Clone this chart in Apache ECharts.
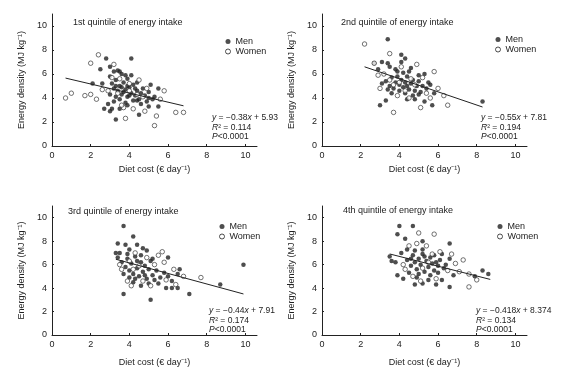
<!DOCTYPE html>
<html>
<head>
<meta charset="utf-8">
<script src="https://cdn.jsdelivr.net/npm/echarts@6/dist/echarts.min.js"></script>
<style>
  html, body { margin: 0; padding: 0; background: #fff; }
  #chart { width: 562px; height: 368px; }
</style>
</head>
<body>
<div id="chart"></div>
<script>
// tick labels
const xTicks = [0, 2, 4, 6, 8, 10];
const yTicks = [0, 2, 4, 6, 8, 10];

const panelTitles = [
  '1st quintile of energy intake',
  '2nd quintile of energy intake',
  '3rd quintile of energy intake',
  '4th quintile of energy intake'
];

const eqSlope = ['−0.38', '−0.55', '−0.44', '−0.418'];
const eqIntercept = ['5.93', '7.81', '7.91', '8.374'];
const eqR2 = ['0.114', '0.194', '0.174', '0.134'];

// [diet cost, energy density]
const men1 = [[2.8,7.3],[4.1,7.3],[2.5,6.4],[3.0,6.6],[3.2,6.2],[3.5,6.2],[3.8,5.9],[3.9,5.6],[4.4,5.3],[2.1,5.2],[2.6,5.2],[5.5,4.8],[5.3,4.1],[5.0,4.0],[4.7,4.8],[3.3,2.2],[4.5,2.6],[2.7,3.1],[3.1,3.1],[3.5,3.1],[3.9,3.4],[5.0,3.3],[5.5,3.3],[4.4,3.8],
  [3.0,5.8],[3.1,5.2],[3.2,4.8],[3.3,5.5],[3.4,4.6],[3.5,5.0],[3.6,4.3],[3.7,5.3],[3.8,4.7],[3.9,4.1],[4.0,4.9],[4.1,4.4],[4.2,5.1],[4.3,4.2],[4.4,4.6],[4.5,3.9],[4.6,4.4],[4.8,4.2],[5.0,4.5],[5.2,3.9],[3.2,3.7],[3.5,3.9],[3.8,3.6],[4.2,3.8],[4.6,3.5],[3.0,4.3],[2.9,3.5],[3.3,4.1],[3.6,6.0],[4.1,5.9],[3.4,6.3],[3.7,4.5],[4.0,4.2],[3.9,5.0],[4.3,4.8],[3.6,4.9],[3.3,5.0],[5.1,5.1],[4.9,3.7],[3.0,2.9]];
const women1 = [[2.4,7.6],[2.0,6.9],[0.7,4.0],[1.0,4.4],[1.7,4.2],[2.0,4.3],[2.3,3.9],[5.8,4.6],[6.4,2.8],[6.8,2.8],[5.3,1.7],[3.8,2.3],[5.4,2.5],[4.0,5.2],[3.4,4.4],[4.5,5.5],[3.1,5.7],[4.9,4.8],[2.9,4.6],[3.7,3.2],[4.2,3.1],[4.7,4.1],[3.5,5.6],[4.0,4.6],[2.6,4.7],[5.6,3.9],[3.6,3.4],[4.4,4.3],[4.8,2.9],[3.2,6.8]];

const men2 = [[3.4,8.9],[4.1,7.6],[3.1,7.0],[3.4,6.9],[4.1,7.0],[4.6,6.5],[3.5,6.6],[2.9,6.4],[5.3,6.0],[5.0,5.9],[3.9,6.2],[3.1,5.2],[5.6,5.1],[5.8,4.4],[5.7,3.4],[5.3,3.7],[3.0,3.4],[3.3,3.8],[4.4,3.9],[4.8,3.9],[4.3,4.4],[8.3,3.7],[2.7,6.9],[4.3,7.3],
  [3.3,5.4],[3.5,5.0],[3.6,5.7],[3.7,4.8],[3.8,5.3],[3.9,5.8],[4.0,4.6],[4.0,5.1],[4.1,5.5],[4.2,4.9],[4.3,5.3],[4.4,5.8],[4.5,4.7],[4.6,5.2],[4.7,5.5],[4.8,4.6],[4.9,5.0],[5.0,5.4],[5.1,4.5],[5.2,5.0],[5.4,4.8],[3.6,4.4],[4.2,6.1],[3.8,6.4],[4.5,6.2],[4.7,4.2],[5.0,4.3],[5.5,5.3],[3.4,4.7],[4.4,5.0]];
const women2 = [[2.2,8.5],[3.5,7.7],[2.7,6.9],[5.8,6.2],[6.0,4.8],[6.3,4.2],[6.5,3.4],[5.1,3.2],[3.7,2.8],[2.9,5.9],[3.2,6.0],[4.9,6.8],[4.0,5.3],[4.3,4.6],[3.7,5.1],[4.6,5.6],[5.2,5.7],[3.9,4.2],[5.6,4.0],[4.1,6.6],[3.5,5.5],[4.8,5.1],[5.4,4.4],[3.0,4.8],[4.5,4.0]];

const men3 = [[3.7,9.3],[4.2,8.4],[3.4,7.8],[3.8,7.7],[4.4,7.7],[3.5,7.0],[3.3,7.0],[3.4,6.6],[4.0,7.3],[4.7,7.4],[4.9,7.2],[6.0,6.6],[5.2,6.5],[6.6,5.6],[6.5,5.2],[6.2,4.6],[8.7,4.3],[9.9,6.0],[3.7,3.5],[5.1,3.0],[7.1,3.5],[5.9,4.0],[6.2,4.0],[6.5,4.0],[4.6,4.2],[4.2,4.5],
  [3.6,6.2],[3.8,5.8],[3.9,6.5],[4.0,5.5],[4.1,6.1],[4.2,5.2],[4.3,6.7],[4.4,5.7],[4.5,5.0],[4.6,6.2],[4.7,5.4],[4.8,5.9],[4.9,4.8],[5.0,5.6],[5.1,6.3],[5.2,5.1],[5.3,4.7],[5.4,5.5],[5.6,4.9],[5.8,5.3],[4.0,4.9],[4.3,4.8],[3.9,6.9],[4.6,6.8],[5.0,4.4],[5.5,4.4],[6.0,5.0],[4.4,6.3],[3.7,5.2],[4.8,5.1]];
const women3 = [[5.7,7.1],[7.7,4.9],[5.8,6.2],[5.5,6.8],[4.1,4.2],[3.6,5.6],[4.3,7.0],[4.7,4.6],[5.3,6.0],[6.3,5.6],[6.8,5.0],[4.5,5.9],[4.0,6.3],[3.5,6.0],[5.1,4.2],[4.9,6.6],[5.9,4.7],[4.2,5.6],[6.4,4.3],[3.9,4.6]];

const men4 = [[4.0,9.3],[4.7,9.3],[3.9,8.6],[4.3,8.2],[5.2,8.0],[6.6,7.8],[3.5,6.7],[3.6,6.3],[3.8,6.2],[4.1,7.0],[4.4,7.3],[4.8,7.2],[6.2,6.9],[6.6,6.5],[8.3,5.5],[8.6,5.2],[7.9,5.0],[3.9,5.1],[4.2,4.8],[4.8,4.3],[5.2,4.4],[5.9,4.3],[6.6,4.1],[5.5,4.7],[6.2,4.7],[6.8,5.1],
  [4.4,6.4],[4.6,5.9],[4.7,6.8],[4.8,6.2],[4.9,5.6],[5.0,6.5],[5.1,6.0],[5.2,6.9],[5.3,5.4],[5.4,6.3],[5.5,5.8],[5.6,6.6],[5.7,6.1],[5.8,5.5],[5.9,6.2],[6.0,5.9],[6.1,6.4],[6.3,5.7],[5.2,7.3],[5.0,5.2],[4.5,5.3],[5.6,5.1],[6.4,6.0],[5.3,6.7],[4.6,6.5],[5.8,6.8],[6.0,5.3],[4.9,4.9]];
const women4 = [[5.0,8.7],[5.8,8.6],[7.3,6.4],[8.0,4.7],[7.6,4.1],[5.7,6.9],[4.2,6.0],[4.5,7.6],[5.4,7.6],[6.1,7.1],[6.5,5.5],[7.1,5.4],[4.7,5.0],[5.2,5.7],[5.5,6.2],[6.9,6.1],[4.3,5.6],[5.9,4.8],[6.7,6.9],[7.6,5.2],[4.9,7.8],[5.1,4.6]];

// regression line end points as drawn
const fit1 = [[0.7,5.66],[6.8,3.35]];
const fit2 = [[2.2,6.6],[8.3,3.25]];
const fit3 = [[3.3,6.46],[9.9,3.5]];
const fit4 = [[3.5,6.91],[8.7,4.74]];

const menAll = [men1, men2, men3, men4];
const womenAll = [women1, women2, women3, women4];
const fitAll = [fit1, fit2, fit3, fit4];

const FONT = 'Liberation Sans';
const INK = '#222';

const grids = [
  { left: 52, top: 14, width: 205, height: 132 },
  { left: 322, top: 14, width: 205, height: 132 },
  { left: 52, top: 206, width: 205, height: 131 },
  { left: 322, top: 206, width: 205, height: 131 }
];
const titlePos = [[73, 18], [341, 18], [68, 207], [343, 206]];
const legendPos = [[220, 32], [490, 30], [214, 217], [492, 217]];
const eqPos = [[212, 113], [481, 113], [209, 306], [476, 306]];
const xNameGap = [19, 19, 23, 23];

const chart = echarts.init(document.getElementById('chart'));

const xAxis = grids.map((g, i) => ({
  type: 'value',
  gridIndex: i,
  min: 0,
  max: 10.6,
  name: 'Diet cost (€ day⁻¹)',
  nameLocation: 'middle',
  nameGap: xNameGap[i],
  nameTextStyle: { fontFamily: FONT, fontSize: 9, color: INK },
  axisLine: { lineStyle: { color: INK, width: 1 } },
  axisTick: { customValues: xTicks, inside: true, length: 2, lineStyle: { color: INK } },
  axisLabel: { customValues: xTicks, fontFamily: FONT, fontSize: 9, color: INK, margin: 5 },
  splitLine: { show: false }
}));

const yAxis = grids.map((g, i) => ({
  type: 'value',
  gridIndex: i,
  min: 0,
  max: 11,
  name: 'Energy density (MJ kg⁻¹)',
  nameLocation: 'middle',
  nameGap: 26,
  nameTextStyle: { fontFamily: FONT, fontSize: 9, color: INK },
  axisLine: { show: true, lineStyle: { color: INK, width: 1 } },
  axisTick: { show: true, customValues: yTicks, inside: true, length: 2, lineStyle: { color: INK } },
  axisLabel: { customValues: yTicks, fontFamily: FONT, fontSize: 9, color: INK, margin: 5 },
  splitLine: { show: false }
}));

const series = [];
for (let i = 0; i < 4; i++) {
  series.push({
    name: 'Men',
    type: 'scatter',
    xAxisIndex: i,
    yAxisIndex: i,
    symbol: 'circle',
    symbolSize: 4.5,
    itemStyle: { color: INK },
    data: menAll[i]
  });
  series.push({
    name: 'Women',
    type: 'scatter',
    xAxisIndex: i,
    yAxisIndex: i,
    symbol: 'circle',
    symbolSize: 4.5,
    itemStyle: { color: '#fff', borderColor: INK, borderWidth: 0.8 },
    data: womenAll[i]
  });
  series.push({
    type: 'line',
    xAxisIndex: i,
    yAxisIndex: i,
    symbol: 'none',
    silent: true,
    lineStyle: { color: INK, width: 1 },
    data: fitAll[i]
  });
}

const legend = legendPos.map((p) => ({
  left: p[0],
  top: p[1],
  orient: 'vertical',
  itemWidth: 5,
  itemHeight: 5,
  itemGap: 1,
  icon: 'circle',
  textStyle: { fontFamily: FONT, fontSize: 9, color: INK },
  data: [
    { name: 'Men' },
    { name: 'Women', itemStyle: { color: '#fff', borderColor: INK, borderWidth: 1 } }
  ]
}));

const title = panelTitles.map((t, i) => ({
  text: t,
  left: titlePos[i][0],
  top: titlePos[i][1],
  padding: 0,
  textStyle: { fontFamily: FONT, fontSize: 9, fontWeight: 'normal', color: INK }
}));

const graphic = eqPos.map((p, i) => ({
  type: 'text',
  left: p[0],
  top: p[1],
  style: {
    text: '{i|y} = ' + eqSlope[i] + '{i|x} + ' + eqIntercept[i] + '\n{i|R}² = ' + eqR2[i] + '\n{i|P}<0.0001',
    fontFamily: FONT,
    fontSize: 8.5,
    lineHeight: 9.5,
    fill: INK,
    rich: { i: { fontStyle: 'italic', fontFamily: FONT, fontSize: 8.5, lineHeight: 9.5 } }
  }
}));

chart.setOption({
  backgroundColor: '#fff',
  animation: false,
  title: title,
  legend: legend,
  grid: grids,
  xAxis: xAxis,
  yAxis: yAxis,
  series: series,
  graphic: graphic
});
</script>
</body>
</html>
